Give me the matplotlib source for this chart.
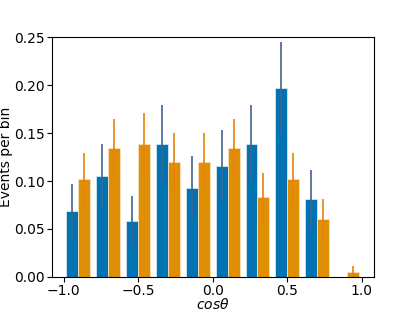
import matplotlib
matplotlib.use('Agg')
import matplotlib.pyplot as plt
import numpy as np

bin_centers = [-0.9, -0.7, -0.5, -0.3, -0.1, 0.1, 0.3, 0.5, 0.7, 0.9]
blue_vals = [0.069, 0.105, 0.058, 0.139, 0.093, 0.116, 0.139, 0.197, 0.081, 0.0]
blue_errs = [0.028, 0.034, 0.026, 0.040, 0.033, 0.037, 0.040, 0.048, 0.031, 0.0]
orange_vals = [0.102, 0.134, 0.139, 0.120, 0.120, 0.134, 0.083, 0.102, 0.060, 0.0045]
orange_errs = [0.027, 0.031, 0.032, 0.030, 0.030, 0.031, 0.025, 0.027, 0.021, 0.0065]
x_ticks = [-1.0, -0.5, 0.0, 0.5, 1.0]

width = 0.08
x = np.array(bin_centers)

fig, ax = plt.subplots(figsize=(4.15, 3.11), dpi=100)

ax.bar(x - width, blue_vals, width=width, align='edge', color='#0173b2',
       edgecolor='#d6e6f2', linewidth=0.6)
ax.bar(x, orange_vals, width=width, align='edge', color='#de8f05',
       edgecolor='#f6e2c0', linewidth=0.6)

blue_mask = np.array(blue_vals) > 0
ax.errorbar(x[blue_mask] - width / 2, np.array(blue_vals)[blue_mask],
            yerr=np.array(blue_errs)[blue_mask], fmt='none', ecolor='#3d6690',
            elinewidth=1.2, capsize=0)
ax.errorbar(x + width / 2, orange_vals, yerr=orange_errs, fmt='none',
            ecolor='#e8820a', elinewidth=1.2, capsize=0)

ax.set_ylim(0, 0.25)
ax.set_xticks(x_ticks)
ax.tick_params(axis='both', pad=1.5)
ax.set_xlabel(r'$cos\theta$', labelpad=-0.5)
ax.set_ylabel('Events per bin', labelpad=1)

fig.savefig('out.png')
